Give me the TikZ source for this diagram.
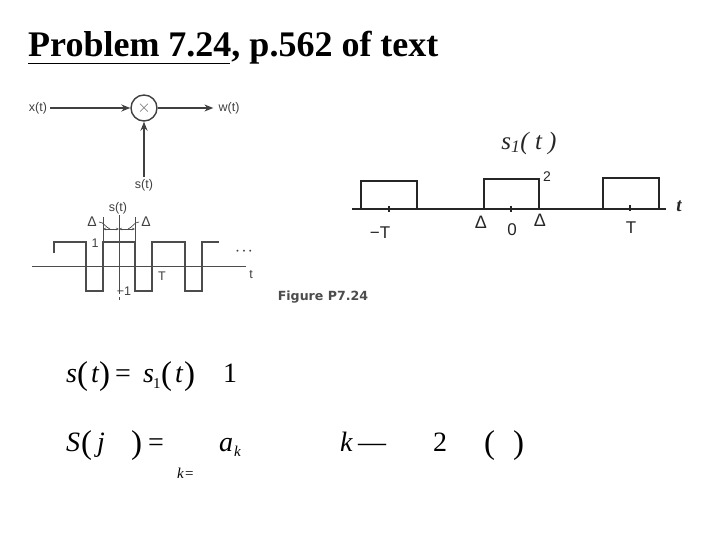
\documentclass[tikz,border=0pt]{standalone}
\usepackage{fontspec}
\setmainfont{Liberation Serif}
\setsansfont{Liberation Sans}
\newfontfamily\figfont{DejaVu Sans}
\usetikzlibrary{arrows.meta}
\begin{document}
\begin{tikzpicture}[
    x=1pt, y=-1pt,
    scanlabel/.style={font=\sffamily\fontsize{12.5}{14}\selectfont, text=black!75, inner sep=2pt},
    penlabel/.style={font=\sffamily\fontsize{17}{19}\selectfont, text=black!85, inner sep=0pt},
    eqtext/.style={font=\itshape\fontsize{28}{30}\selectfont, anchor=base west, inner sep=0pt},
    eqroman/.style={font=\fontsize{28}{30}\selectfont, anchor=base west, inner sep=0pt},
    eqparen/.style={font=\fontsize{33}{35}\selectfont, anchor=base west, inner sep=0pt},
    eqsmall/.style={font=\itshape\fontsize{15}{16}\selectfont, anchor=base west, inner sep=0pt},
    directed/.style={-{Stealth[length=9pt,width=7pt]}, line width=1.4pt, draw=black!75},
    wave/.style={line width=1.8pt, draw=black!70},
    thinline/.style={line width=0.7pt, draw=black!70},
    penline/.style={line width=1.1pt, draw=black!85}
]
    \useasboundingbox (0,0) rectangle (720,540);

    % Title
    \node[anchor=base west, inner sep=0pt, font=\bfseries\fontsize{36}{38}\selectfont] (title) at (28,57) {Problem 7.24, p.562 of text};
    \coordinate (ulstart) at (28,63);
    \coordinate (ulend) at (230,63);
    \draw[line width=0.8pt] (ulstart) -- (ulend);

    % Multiplier
    \node[circle, draw=black!75, line width=1.4pt, minimum size=26pt, inner sep=0pt, text=black!60, font=\fontsize{17}{18}\selectfont] (mult) at (144,108) {$\times$};
    \node[scanlabel, inner xsep=3pt] (xin) at (38,108) {x(t)};
    \node[scanlabel, inner xsep=5pt] (wout) at (229,108) {w(t)};
    \node[scanlabel] (sin) at (144,185) {s(t)};
    \draw[directed] (xin) -- (mult);
    \draw[directed] (mult) -- (wout);
    \draw[directed] (sin) -- (mult);

    % Square wave
    \coordinate (axisl) at (32,266);
    \coordinate (axisr) at (246,266);
    \draw[thinline] (axisl) -- (axisr);
    \node[scanlabel] (stop) at (118,208) {s(t)};
    \coordinate (vtop) at (119,215);
    \coordinate (vlow) at (119,291);
    \coordinate (vend) at (119,302);
    \draw[thinline] (vtop) -- (vlow);
    \draw[thinline, dashed] (vlow) -- (vend);
    \draw[wave] (54,253) -- (54,242) -- (86,242) -- (86,291) -- (103,291) -- (103,242)
        -- (135,242) -- (135,291) -- (152,291) -- (152,242) -- (185,242) -- (185,291)
        -- (202,291) -- (202,242) -- (219,242);
    \node[scanlabel] (one) at (95,243) {1};
    \node[scanlabel] (minusone) at (124,291) {−1};
    \node[scanlabel] (tmark) at (162,276) {T};
    \node[scanlabel] (taxis) at (251,275) {t};
    \node[scanlabel, font=\sffamily\fontsize{7}{8}\selectfont] (dots) at (244,252) {•\hspace{4pt}•\hspace{4pt}•};

    % Delta marks
    \node[scanlabel, font=\sffamily\fontsize{14}{16}\selectfont] (dleft) at (92,222) {Δ};
    \node[scanlabel, font=\sffamily\fontsize{14}{16}\selectfont] (dright) at (146,222) {Δ};
    \coordinate (ltick) at (103,217);
    \coordinate (lbase) at (103,242);
    \coordinate (rtick) at (135,217);
    \coordinate (rbase) at (135,242);
    \coordinate (lmid) at (103,229);
    \coordinate (rmid) at (135,229);
    \coordinate (cmid) at (119,229);
    \draw[thinline] (ltick) -- (lbase);
    \draw[thinline] (rtick) -- (rbase);
    \draw[thinline, {Stealth[length=3pt,width=2.5pt]}-{Stealth[length=3pt,width=2.5pt]}] (lmid) -- (cmid);
    \draw[thinline, {Stealth[length=3pt,width=2.5pt]}-{Stealth[length=3pt,width=2.5pt]}] (cmid) -- (rmid);
    \draw[thinline] (dleft.east) to[out=0, in=160] (110,229);
    \draw[thinline] (dright.west) to[out=180, in=20] (128,229);

    \node[font=\figfont\bfseries\fontsize{12.6}{14}\selectfont, text=black!70, inner sep=0pt] (figlabel) at (323,297) {Figure P7.24};

    % Hand drawn pulses
    \coordinate (haxisl) at (352,209);
    \coordinate (haxisr) at (666,209);
    \draw[penline] (haxisl) -- (haxisr);
    \draw[penline] (361,209) -- (361,181) -- (417,181) -- (417,209);
    \draw[penline] (484,209) -- (484,179) -- (539,179) -- (539,209);
    \draw[penline] (603,209) -- (603,178) -- (659,178) -- (659,209);
    \draw[penline] (389,206) -- (389,212);
    \draw[penline] (511,206) -- (511,212);
    \draw[penline] (630,205) -- (630,211);
    \node[penlabel, font=\itshape\fontsize{25}{27}\selectfont] (stitle) at (529,143) {s\textsubscript{1}( t )};
    \node[scanlabel, font=\sffamily\fontsize{14}{16}\selectfont, text=black!85] (ptwo) at (547,177) {2};
    \node[penlabel, font=\itshape\bfseries\fontsize{19}{21}\selectfont] (tpen) at (679,206) {t};
    \node[penlabel] (mt) at (380,233) {−T};
    \node[penlabel, font=\sffamily\fontsize{18}{20}\selectfont] (pdl) at (481,222) {Δ};
    \node[penlabel] (pzero) at (512,230) {0};
    \node[penlabel, font=\sffamily\fontsize{18}{20}\selectfont] (pdr) at (540,220) {Δ};
    \node[penlabel] (pt) at (631,228) {T};

    % First equation
    \node[eqtext] (eqa) at (66,382) {s};
    \node[eqparen] (eqb) at (77,384) {(};
    \node[eqtext] (eqc) at (91,382) {t};
    \node[eqparen] (eqd) at (99,384) {)};
    \node[eqroman] (eqe) at (115,382) {=};
    \node[eqtext] (eqf) at (143,382) {s};
    \node[eqsmall, font=\fontsize{15}{16}\selectfont] (eqg) at (153,388) {1};
    \node[eqparen] (eqh) at (161,384) {(};
    \node[eqtext] (eqi) at (175,382) {t};
    \node[eqparen] (eqj) at (184,384) {)};
    \node[eqroman] (eqk) at (223,382) {1};

    % Second equation
    \node[eqtext] (fta) at (66,451) {S};
    \node[eqparen] (ftb) at (81,453) {(};
    \node[eqtext] (ftc) at (97,451) {j};
    \node[eqparen] (ftd) at (131,453) {)};
    \node[eqroman] (fte) at (148,451) {=};
    \node[eqtext] (ftf) at (219,451) {a};
    \node[eqsmall] (ftg) at (234,456) {k};
    \node[eqsmall] (fth) at (177,478) {k};
    \node[eqsmall, font=\fontsize{15}{16}\selectfont] (fti) at (185,478) {=};
    \node[eqtext] (ftj) at (340,451) {k};
    \node[eqroman] (ftk) at (358,451) {—};
    \node[eqroman] (ftl) at (433,451) {2};
    \node[eqparen] (ftm) at (484,453) {(};
    \node[eqparen] (ftn) at (513,453) {)};
\end{tikzpicture}
\end{document}
